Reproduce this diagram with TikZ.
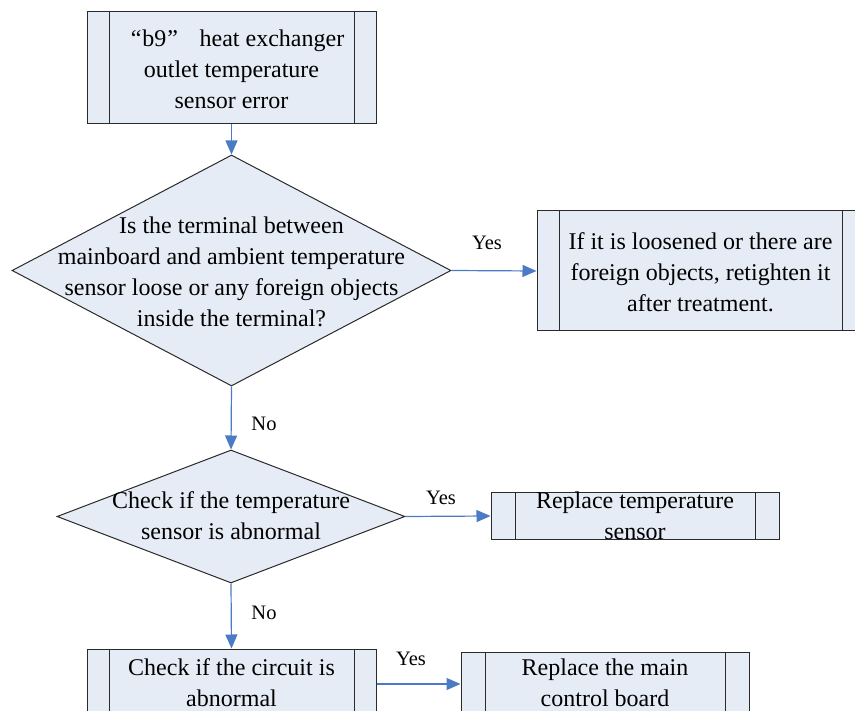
\documentclass[tikz,border=0pt]{standalone}
\usepackage{fontspec}
\setmainfont{Liberation Serif}
\usetikzlibrary{shapes.geometric,arrows.meta}
\definecolor{boxfill}{HTML}{E6ECF6}
\definecolor{boxline}{HTML}{2A2A2A}
\definecolor{arrowblue}{HTML}{4A7BC4}
\tikzset{
  subproc/.style 2 args={draw=boxline, line width=1pt, fill=boxfill, minimum width=#1, minimum height=#2, inner sep=0pt},
  innerlines/.style={path picture={
      \draw[boxline, line width=1pt] ([xshift=#1]path picture bounding box.north west) -- ([xshift=#1]path picture bounding box.south west);
      \draw[boxline, line width=1pt] ([xshift=-#1]path picture bounding box.north east) -- ([xshift=-#1]path picture bounding box.south east);}},
  decision/.style 2 args={draw=boxline, line width=1pt, fill=boxfill, shape=diamond, minimum width=#1, minimum height=#2, inner sep=0pt},
  txt/.style={align=center, inner sep=0pt, font=\fontsize{24}{31}\selectfont},
  lbl/.style={inner sep=0pt, font=\fontsize{20.5}{24}\selectfont},
  flow/.style={draw=arrowblue, line width=1.2pt, -{Triangle[length=14pt,width=12pt]}, color=arrowblue}
}
\begin{document}
\begin{tikzpicture}[x=1pt,y=-1pt]
\useasboundingbox (0,0) rectangle (855,711);
\clip (0,0) rectangle (855,711);
% boxes
\node[subproc={289pt}{112pt}, innerlines=22pt] (b1) at (231.5,68) {};
\node[txt] (t1) at (231.5,69) {\hspace*{12pt}“\kern1pt b9\kern1pt”\hspace{0.9em}heat exchanger\\outlet temperature\\sensor error};
\node[decision={439pt}{231pt}] (d1) at (231.5,270.5) {};
\node[txt] (t2) at (231.5,272) {Is the terminal between\\mainboard and ambient temperature\\sensor loose or any foreign objects\\inside the terminal?};
\node[subproc={327pt}{120pt}, innerlines=22pt] (b2) at (700.5,271) {};
\node[txt] (t3) at (700.5,272) {If it is loosened or there are\\foreign objects, retighten it\\after treatment.};
\node[decision={348pt}{133pt}] (d2) at (231,516.5) {};
\node[txt] (t4) at (231,516) {Check if the temperature\\sensor is abnormal};
\node[subproc={288pt}{46pt}, innerlines=24pt] (b3) at (635,516) {};
\node[txt] (t5) at (635,516) {Replace temperature\\sensor};
\node[subproc={289pt}{68pt}, innerlines=22pt] (b4) at (231.5,683) {};
\node[txt] (t6) at (231.5,683) {Check if the circuit is\\abnormal};
\node[subproc={288pt}{64pt}, innerlines=24pt] (b5) at (605,684) {};
\node[txt] (t7) at (605,683) {Replace the main\\control board};
% connectors
\draw[flow] (b1.south) -- (d1.north);
\draw[flow] (d1.east) -- (b2.west);
\draw[flow] (d1.south) -- (d2.north);
\draw[flow] (d2.east) -- (b3.west);
\draw[flow] (d2.south) -- (b4.north);
\draw[flow] (b4.east |- b5.west) -- (b5.west);
% labels
\node[lbl] (y1) at (487,243) {Yes};
\node[lbl] (n1) at (264,424) {No};
\node[lbl] (y2) at (441,498) {Yes};
\node[lbl] (n2) at (264,613) {No};
\node[lbl] (y3) at (411,659) {Yes};
\end{tikzpicture}
\end{document}
